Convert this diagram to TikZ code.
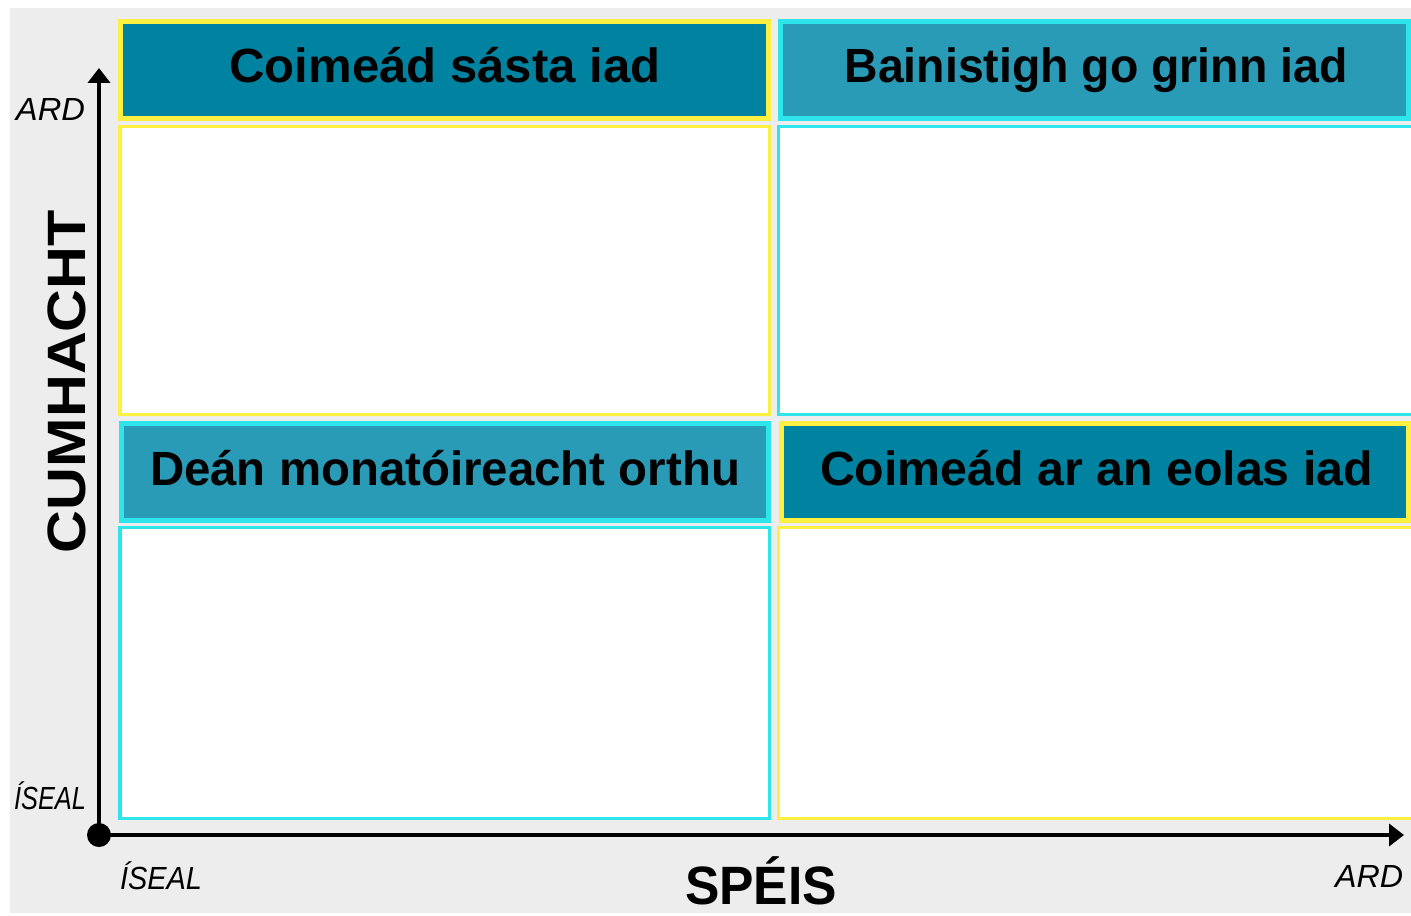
\documentclass[tikz,border=0pt]{standalone}
\usepackage{fontspec}
\setmainfont{Liberation Sans}
\usetikzlibrary{arrows.meta}
\definecolor{bggray}{HTML}{EDEDED}
\definecolor{darkteal}{HTML}{0083A0}
\definecolor{lightteal}{HTML}{2A9BB7}
\definecolor{ylw}{HTML}{FDF040}
\definecolor{cyn}{HTML}{2EE5EC}
\newcommand\fitto[2]{\setbox0\hbox{#2}\pgfmathsetmacro\fitfac{(#1)/\the\wd0}\scalebox{\fitfac}[1]{\box0}}
\begin{document}
\begin{tikzpicture}[x=0.5pt,y=-0.5pt,
  hdr/.style={line width=2.5pt},
  body/.style={line width=1.6pt, fill=white},
  hdrtext/.style={inner sep=0pt, anchor=base, font=\fontsize{24pt}{28pt}\selectfont\bfseries},
  axlabel/.style={inner sep=0pt, anchor=base, font=\fontsize{16pt}{19pt}\selectfont\itshape},
  axtitle/.style={inner sep=0pt, anchor=base, font=\fontsize{27pt}{32pt}\selectfont\bfseries},
  axis/.style={line width=2pt, -{Triangle[length=7.5pt,width=11pt]}}]
\useasboundingbox (0,0) rectangle (1411,915);
\fill[white] (0,0) rectangle (1411,915);
\fill[bggray] (10,8) rectangle (1411,913);
% quadrants
\draw[hdr, draw=ylw, fill=darkteal] (120,22) rectangle (768,118);
\draw[hdr, draw=cyn, fill=lightteal] (780,22) rectangle (1408,118);
\draw[body, draw=ylw] (120,126.5) rectangle (769.5,414.5);
\draw[body, draw=cyn] (778.5,126.5) rectangle (1420,414.5);
\draw[hdr, draw=cyn, fill=lightteal] (121,423) rectangle (768,520);
\draw[hdr, draw=ylw, fill=darkteal] (781,423) rectangle (1408,520);
\draw[body, draw=cyn] (120,527.5) rectangle (769.5,818.5);
\draw[body, draw=ylw] (778.5,527.5) rectangle (1420,818.5);
% header texts
\node[hdrtext] (tl) at (445,83) {\fitto{215.5pt}{Coimeád sásta iad}};
\node[hdrtext] (tr) at (1096,83) {\fitto{251.5pt}{Bainistigh go grinn iad}};
\node[hdrtext] (bl) at (445,485) {\fitto{295pt}{Deán monatóireacht orthu}};
\node[hdrtext] (br) at (1096.5,485) {\fitto{276.5pt}{Coimeád ar an eolas iad}};
% axes
\coordinate (o) at (99,835);
\coordinate (ytip) at (99,68);
\coordinate (xtip) at (1404,835);
\draw[axis] (o) -- (ytip);
\draw[axis] (o) -- (xtip);
\fill (o) circle[radius=6pt];
% axis labels
\node[axlabel] (yhi) at (50.5,120) {\fitto{34.5pt}{ARD}};
\node[axlabel] (ylo) at (50,809) {\fitto{36pt}{ÍSEAL}};
\node[axlabel] (xlo) at (161,889) {\fitto{41pt}{ÍSEAL}};
\node[axlabel] (xhi) at (1369,887) {\fitto{34pt}{ARD}};
\node[axtitle] (xt) at (761,904) {\fitto{76pt}{SPÉIS}};
\node[axtitle, rotate=90] (yt) at (85,381.5) {\fitto{171.5pt}{CUMHACHT}};
\end{tikzpicture}
\end{document}
